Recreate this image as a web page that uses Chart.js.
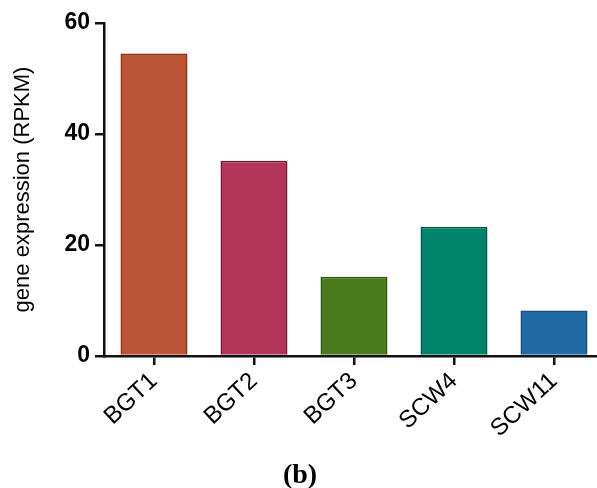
<!DOCTYPE html>
<html lang="en">
<head>
  <meta charset="UTF-8">
  <title>Gene expression</title>
  <script src="https://cdn.jsdelivr.net/npm/chart.js"></script>
  <style>
    body { margin: 0; background: #fff; overflow: hidden; }
    #wrap { position: relative; width: 610px; height: 488px; }
    #tag { position: absolute; left: 0; width: 600px; top: 458px; text-align: center;
           font: bold 28px "Liberation Serif", "DejaVu Serif", serif; color: #000; line-height: 32px; }
  </style>
</head>
<body>

  <div id="wrap">
    <canvas id="geneChart"></canvas>
    <div id="tag">(b)</div>
  </div>

  <script>
    const genes = ['BGT1', 'BGT2', 'BGT3', 'SCW4', 'SCW11'];
    const rpkm = [54.5, 35.2, 14.3, 23.3, 8.2];
    const yTicks = [0, 20, 40, 60];
    const fills = ['#bb5538', '#b3365a', '#4a7a1c', '#00836a', '#1f6aa5'];
    const edges = ['#8f2e14', '#7a1838', '#2d5510', '#005a46', '#174e7d'];

    const axisColor = '#111';

    const ctx = document.getElementById('geneChart').getContext('2d');
    const chart = new Chart(ctx, {
      type: 'bar',
      data: {
        labels: genes,
        datasets: [{
          data: rpkm,
          backgroundColor: fills,
          borderColor: edges,
          borderWidth: 1.5,
          barPercentage: 0.67,
          categoryPercentage: 1
        }]
      },
      options: {
        responsive: true,
        maintainAspectRatio: false,
        animation: false,
        layout: { padding: { top: 23, right: 6, left: 0, bottom: 0 } },
        plugins: {
          legend: { display: false },
          tooltip: { enabled: false }
        },
        scales: {
          x: {
            afterFit: s => { s.height = 132; },
            grid: { display: true, offset: false, drawOnChartArea: false, drawTicks: true, tickLength: 9, lineWidth: 2.5, color: axisColor },
            border: { display: true, width: 2.5, color: axisColor },
            ticks: {
              color: '#000',
              font: { family: 'Liberation Sans, Arial', size: 24 },
              minRotation: 43, maxRotation: 43,
              padding: 2
            }
          },
          y: {
            min: 0, max: 60,
            afterFit: s => { s.width = 104; },
            afterBuildTicks: s => { s.ticks = yTicks.map(v => ({ value: v })); },
            grid: { display: true, drawOnChartArea: false, drawTicks: true, tickLength: 9, lineWidth: 2.5, color: axisColor },
            border: { display: true, width: 2.5, color: axisColor },
            ticks: {
              color: '#000',
              font: { family: 'Liberation Sans, Arial', size: 23, weight: 'bold' },
              padding: 5
            },
            title: {
              display: true,
              text: 'gene expression (RPKM)',
              color: '#000',
              font: { family: 'Liberation Sans, Arial', size: 22 },
              padding: { top: 10, bottom: 0 }
            }
          }
        }
      }
    });
  </script>

</body>
</html>
